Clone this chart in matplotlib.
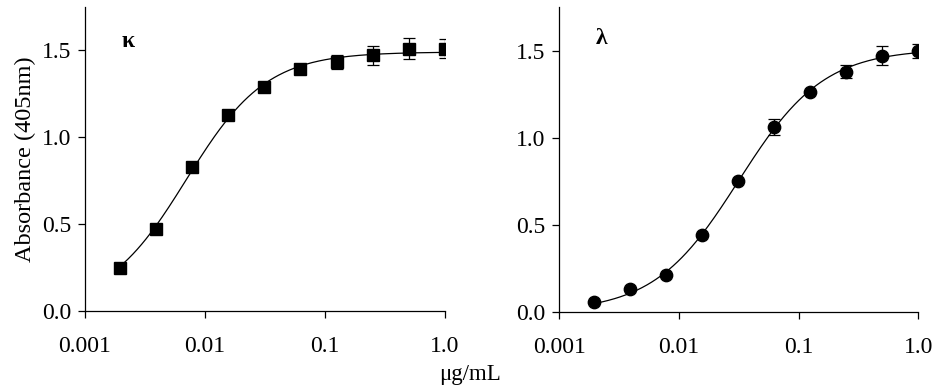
import matplotlib
matplotlib.use("Agg")
import matplotlib.pyplot as plt
import numpy as np

plt.rcParams['font.family'] = 'serif'
plt.rcParams['font.serif'] = ['Liberation Serif']

# two-fold dilution series, ug/mL
conc = [0.00195, 0.0039, 0.0078, 0.0156, 0.03125, 0.0625, 0.125, 0.25, 0.5, 1.0]

kappa = [0.25, 0.47, 0.83, 1.13, 1.29, 1.39, 1.43, 1.47, 1.51, 1.51]
kappa_err = [0.0, 0.0, 0.0, 0.0, 0.0, 0.0, 0.04, 0.055, 0.058, 0.055]

lam = [0.06, 0.13, 0.21, 0.44, 0.75, 1.06, 1.26, 1.38, 1.47, 1.50]
lam_err = [0.0, 0.0, 0.0, 0.0, 0.0, 0.046, 0.0, 0.036, 0.055, 0.04]

xticks = [0.001, 0.01, 0.1, 1.0]
xtick_labels = ['0.001', '0.01', '0.1', '1.0']
yticks = [0.0, 0.5, 1.0, 1.5]


def four_pl(x, bottom, top, ec50, hill):
    return bottom + (top - bottom) / (1 + (ec50 / x) ** hill)


def fit_4pl(x, y):
    # crude grid search least squares fit (no scipy around)
    x = np.asarray(x)[:, None, None, None, None]
    y = np.asarray(y)[:, None, None, None, None]
    b = np.linspace(0.0, 0.1, 11)[None, :, None, None, None]
    t = np.linspace(1.44, 1.58, 29)[None, None, :, None, None]
    e = np.logspace(-3, -0.5, 81)[None, None, None, :, None]
    h = np.linspace(0.8, 2.0, 49)[None, None, None, None, :]
    sse = ((four_pl(x, b, t, e, h) - y) ** 2).sum(axis=0)
    i = np.unravel_index(np.argmin(sse), sse.shape)
    return b[0, i[0], 0, 0, 0], t[0, 0, i[1], 0, 0], e[0, 0, 0, i[2], 0], h[0, 0, 0, 0, i[3]]


fig = plt.figure(figsize=(9.4, 3.9), dpi=100)
ax1 = fig.add_axes([0.0904, 0.2026, 0.383, 0.78])
ax2 = fig.add_axes([0.595, 0.2000, 0.382, 0.782])

panels = [
    (ax1, kappa, kappa_err, 's', 8.4, '\u03ba', 1.55),
    (ax2, lam, lam_err, 'o', 8.9, '\u03bb', 1.57),
]

xs = np.logspace(np.log10(conc[0]), 0, 300)
for ax, vals, err, mk, ms, lab, ly in panels:
    p = fit_4pl(conc, vals)
    ax.plot(xs, four_pl(xs, *p), color='black', lw=0.9, zorder=2)
    ax.errorbar(conc, vals, yerr=err, fmt=mk, color='black', ms=ms,
                ecolor='black', elinewidth=0.9, capsize=4.5, capthick=0.9, zorder=3)
    ax.set_xscale('log')
    ax.set_xlim(0.001, 1.0)
    ax.set_ylim(0, 1.75)
    ax.set_xticks(xticks)
    ax.set_xticklabels(xtick_labels)
    ax.minorticks_off()
    ax.set_yticks(yticks)
    ax.set_yticklabels(['%.1f' % v for v in yticks])
    for s in ['top', 'right']:
        ax.spines[s].set_visible(False)
    for s in ['left', 'bottom']:
        ax.spines[s].set_linewidth(0.9)
    ax.tick_params(direction='out', length=5, width=0.9, labelsize=17)
    ax.tick_params(axis='x', pad=13)
    ax.tick_params(axis='y', pad=5)
    ax.text(0.002, ly, lab, fontsize=17, fontweight='bold', ha='left', va='center')

ax1.set_ylabel('Absorbance (405nm)', fontsize=17.5, labelpad=4)
fig.text(0.5, 0.04, '\u03bcg/mL', fontsize=16.5, ha='center', va='center')

fig.savefig('out.png', dpi=100)
